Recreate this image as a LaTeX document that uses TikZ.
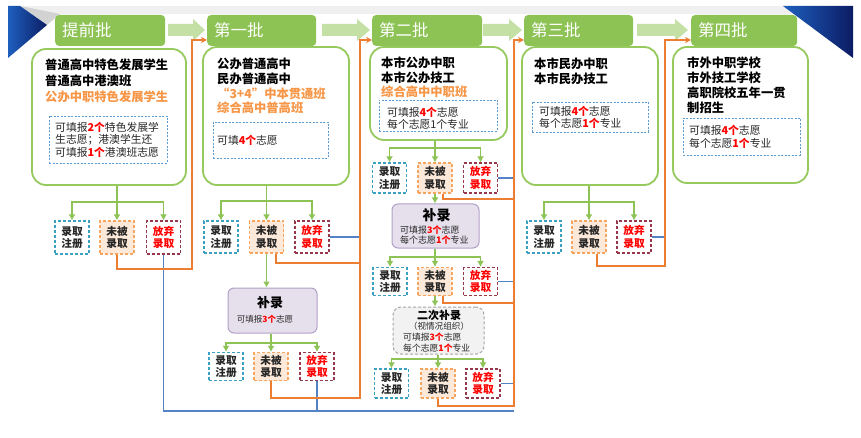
\documentclass[tikz,border=0pt]{standalone}
\usepackage{fontspec}
\setmainfont{Noto Sans CJK SC}
\usetikzlibrary{arrows.meta}
\definecolor{hgreen}{RGB}{141,194,84}
\definecolor{agreen}{RGB}{197,224,165}
\definecolor{bgreen}{RGB}{150,202,95}
\definecolor{cgreen}{RGB}{141,195,86}
\definecolor{otext}{RGB}{247,150,70}
\definecolor{oline}{RGB}{237,125,49}
\definecolor{bline}{RGB}{84,130,200}
\definecolor{dblue}{RGB}{91,155,213}
\definecolor{rteal}{RGB}{60,160,195}
\definecolor{uorange}{RGB}{247,165,95}
\definecolor{ufill}{RGB}{253,233,217}
\definecolor{fmaroon}{RGB}{150,55,75}
\definecolor{pfill}{RGB}{229,224,236}
\definecolor{pdraw}{RGB}{178,161,199}
\definecolor{gfill}{RGB}{242,242,242}
\definecolor{gdraw}{RGB}{165,165,165}
\definecolor{navy1}{RGB}{30,95,190}
\definecolor{navy2}{RGB}{12,28,100}
\newcommand{\rd}[1]{\textcolor{red}{\textbf{#1}}}
\begin{document}
\begin{tikzpicture}[x=1pt,y=-1pt,
  hdr/.style={fill=hgreen, rounded corners=4pt, minimum height=31pt, inner xsep=7pt, inner ysep=0pt, text=white, align=left, anchor=west, font=\fontsize{16.5}{18}\selectfont},
  mbox/.style={draw=bgreen, line width=1.8pt, rounded corners=14pt, fill=white, inner sep=0pt},
  tb/.style={font=\bfseries\fontsize{12.3}{#1}\selectfont, align=left, anchor=west, inner sep=0pt},
  ts/.style={font=\fontsize{10.8}{#1}\selectfont, align=left, anchor=west, inner sep=0pt, text=black!85},
  dbox/.style={draw=dblue, dash pattern=on 2pt off 1.5pt, line width=0.8pt, inner sep=0pt},
  rb/.style={minimum width=34pt, minimum height=#1, dash pattern=on 3pt off 2pt, line width=1.2pt, align=center, inner sep=0pt, font=\bfseries\fontsize{10.7}{12.5}\selectfont},
  rreg/.style={rb=#1, draw=rteal, fill=white, text=black!85},
  rnot/.style={rb=#1, draw=uorange, fill=ufill, text=black!85},
  rgiv/.style={rb=#1, draw=fmaroon, fill=white, text=red},
  gl/.style={draw=cgreen, line width=1.6pt},
  gla/.style={gl, -{Latex[length=6pt,width=7pt]}},
  ol/.style={draw=oline, line width=1.3pt},
  ola/.style={ol, -{Stealth[length=6pt,width=6pt]}},
  bl/.style={draw=bline, line width=1.3pt}
]
\useasboundingbox (0,0) rectangle (861,438);
% decoration
\fill[gray!12] (8,6) rectangle (853,14);
\fill[gray!35] (20,6) -- (60,14) -- (47,25) -- cycle;
\shade[left color=navy1, right color=navy2] (8,6) -- (20,6) -- (47,25) -- (8,58) -- cycle;
\shade[left color=navy1, right color=navy2] (783,6) -- (853,6) -- (853,58) -- cycle;
% header arrows
\fill[agreen] (168,24) -- (193,24) -- (193,19) -- (205,30) -- (193,41) -- (193,36) -- (168,36) -- cycle;
\fill[agreen] (322,24) -- (357,24) -- (357,19) -- (370,30) -- (357,41) -- (357,36) -- (322,36) -- cycle;
\fill[agreen] (483,24) -- (509,24) -- (509,19) -- (522,30) -- (509,41) -- (509,36) -- (483,36) -- cycle;
\fill[agreen] (637,24) -- (675,24) -- (675,19) -- (688,30) -- (675,41) -- (675,36) -- (637,36) -- cycle;
% headers
\node[hdr, text width=96pt] (h1) at (55,30.5) {提前批};
\node[hdr, text width=95pt] (h2) at (207,30.5) {第一批};
\node[hdr, text width=96pt] (h3) at (372,30.5) {第二批};
\node[hdr, text width=95pt] (h4) at (524,30.5) {第三批};
\node[hdr, text width=92pt] (h5) at (691,30.5) {第四批};
\coordinate (y40) at (0,40);
% main boxes
\node[mbox, minimum width=154pt, minimum height=136pt] (m1) at (109,117) {};
\node[tb=16] (t1) at (45,81) {普通高中特色发展学生\\普通高中港澳班\\\textcolor{otext}{公办中职特色发展学生}};
\node[dbox, minimum width=118pt, minimum height=47pt] (d1) at (108,139.5) {};
\node[ts=12.5] (s1) at (55,139.5) {可填报\rd{2个}特色发展学\\生志愿；港澳学生还\\可填报\rd{1个}港澳班志愿};

\node[mbox, minimum width=146pt, minimum height=138pt] (m2) at (276,116) {};
\node[tb=14.7] (t2) at (217,86) {公办普通高中\\民办普通高中\\\textcolor{otext}{“3+4”中本贯通班}\\\textcolor{otext}{综合高中普高班}};
\node[dbox, minimum width=115pt, minimum height=36pt] (d2) at (270.5,140) {};
\node[ts=12] (s2) at (217,140) {可填\rd{4个}志愿};

\node[mbox, minimum width=137pt, minimum height=93pt] (m3) at (438.5,93.5) {};
\node[tb=14.5] (t3) at (381,77.5) {本市公办中职\\本市公办技工\\\textcolor{otext}{综合高中中职班}};
\node[dbox, minimum width=118pt, minimum height=31pt] (d3) at (438,115.5) {};
\node[ts=12] (s3) at (387,118) {可填报\rd{4个}志愿\\每个志愿1个专业};

\node[mbox, minimum width=136pt, minimum height=138pt] (m4) at (590,116) {};
\node[tb=15] (t4) at (534,71.5) {本市民办中职\\本市民办技工};
\node[dbox, minimum width=116pt, minimum height=30pt] (d4) at (590,117) {};
\node[ts=11.5] (s4) at (539,117.5) {可填报\rd{4个}志愿\\每个志愿\rd{1个}专业};

\node[mbox, minimum width=135pt, minimum height=136pt] (m5) at (740.5,115) {};
\node[tb=15] (t5) at (687,85.5) {市外中职学校\\市外技工学校\\高职院校五年一贯\\制招生};
\node[dbox, minimum width=117pt, minimum height=37pt] (d5) at (741.5,136.5) {};
\node[ts=13] (s5) at (689,136.5) {可填报\rd{4个}志愿\\每个志愿\rd{1个}专业};

% result boxes
\node[rreg=33pt] (r1) at (72,237.5) {录取\\注册};
\node[rnot=33pt] (u1) at (117,237.5) {未被\\录取};
\node[rgiv=33pt] (f1) at (163.5,237.5) {放弃\\录取};

\node[rreg=32pt] (r2) at (221,237) {录取\\注册};
\node[rnot=32pt] (u2) at (266.5,237) {未被\\录取};
\node[rgiv=32pt] (f2) at (312,237) {放弃\\录取};

\node[rreg=28pt] (r2b) at (226,366.5) {录取\\注册};
\node[rnot=28pt] (u2b) at (271,366.5) {未被\\录取};
\node[rgiv=28pt] (f2b) at (317,366.5) {放弃\\录取};

\node[rreg=30pt] (r3a) at (389.5,178) {录取\\注册};
\node[rnot=30pt] (u3a) at (435,178) {未被\\录取};
\node[rgiv=30pt] (f3a) at (480.5,178) {放弃\\录取};

\node[rreg=28pt] (r3b) at (390,281.5) {录取\\注册};
\node[rnot=28pt] (u3b) at (435,281.5) {未被\\录取};
\node[rgiv=28pt] (f3b) at (480.5,281.5) {放弃\\录取};

\node[rreg=29pt] (r3c) at (391.5,383.5) {录取\\注册};
\node[rnot=29pt] (u3c) at (438,383.5) {未被\\录取};
\node[rgiv=29pt] (f3c) at (483,383.5) {放弃\\录取};

\node[rreg=32pt] (r4) at (544,237) {录取\\注册};
\node[rnot=32pt] (u4) at (589,237) {未被\\录取};
\node[rgiv=32pt] (f4) at (634,237) {放弃\\录取};

% supplementary boxes
\node[fill=pfill, draw=pdraw, line width=1pt, rounded corners=6pt, minimum width=89pt, minimum height=45pt, inner sep=0pt] (bl2) at (272.5,310.5) {};
\node[font=\bfseries\fontsize{13}{14}\selectfont, inner sep=0pt] (bl2a) at (270,303) {补录};
\node[font=\fontsize{8.5}{10}\selectfont, inner sep=0pt, text=black!85] (bl2b) at (265,319) {可填报\rd{3个}志愿};

\node[fill=pfill, draw=pdraw, line width=1pt, rounded corners=6pt, minimum width=87pt, minimum height=44pt, inner sep=0pt] (bl3) at (435.5,226) {};
\node[font=\bfseries\fontsize{14}{15}\selectfont, inner sep=0pt] (bl3a) at (436.5,215) {补录};
\node[font=\fontsize{9}{10.5}\selectfont, inner sep=0pt, align=left, anchor=west, text=black!85] (bl3b) at (400,235) {可填报\rd{3个}志愿\\每个志愿\rd{1个}专业};

\node[fill=gfill, draw=gdraw, dash pattern=on 3pt off 2pt, line width=1pt, rounded corners=8pt, minimum width=91pt, minimum height=47pt, inner sep=0pt] (eb3) at (438.5,330.5) {};
\node[font=\bfseries\fontsize{11}{12}\selectfont, inner sep=0pt] (eb3a) at (439,315) {二次补录};
\node[font=\fontsize{8.6}{10}\selectfont, inner sep=0pt, text=black!85] (eb3b) at (439,326) {（视情况组织）};
\node[font=\fontsize{8.8}{11}\selectfont, inner sep=0pt, align=left, anchor=west, text=black!85] (eb3c) at (403,342.5) {可填报\rd{3个}志愿\\每个志愿\rd{1个}专业};

% green connectors
\coordinate (k1) at (117,202);
\draw[gl] (m1.south -| k1) -- (k1);
\draw[gla] (k1) -| (r1.north);
\draw[gla] (k1) -- (u1.north);
\draw[gla] (k1) -| (f1.north);

\coordinate (k2) at (266.5,201);
\draw[gl] (m2.south -| k2) -- (k2);
\draw[gla] (k2) -| (r2.north);
\draw[gla] (k2) -- (u2.north);
\draw[gla] (k2) -| (f2.north);
\draw[gla] (u2.south) -- (u2.south |- bl2.north);
\coordinate (k2b) at (271,343);
\draw[gl] (bl2.south -| k2b) -- (k2b);
\draw[gla] (k2b) -| (r2b.north);
\draw[gla] (k2b) -- (u2b.north);
\draw[gla] (k2b) -| (f2b.north);

\coordinate (k3a) at (435,148);
\draw[gl] (m3.south -| k3a) -- (k3a);
\draw[gla] (k3a) -| (r3a.north);
\draw[gla] (k3a) -- (u3a.north);
\draw[gla] (k3a) -| (f3a.north);
\draw[gla] (u3a.south) -- (u3a.south |- bl3.north);
\coordinate (k3b) at (435,257);
\draw[gl] (bl3.south -| k3b) -- (k3b);
\draw[gla] (k3b) -| (r3b.north);
\draw[gla] (k3b) -- (u3b.north);
\draw[gla] (k3b) -| (f3b.north);
\draw[gla] (u3b.south) -- (u3b.south |- eb3.north);
\coordinate (k3c) at (438,359);
\draw[gl] (eb3.south -| k3c) -- (k3c);
\draw[gla] (k3c) -| (r3c.north);
\draw[gla] (k3c) -- (u3c.north);
\draw[gla] (k3c) -| (f3c.north);

\coordinate (k4) at (589,202);
\draw[gl] (m4.south -| k4) -- (k4);
\draw[gla] (k4) -| (r4.north);
\draw[gla] (k4) -- (u4.north);
\draw[gla] (k4) -| (f4.north);

% blue connectors
\coordinate (b1) at (514,411);
\coordinate (o2) at (360,263);
\coordinate (o4) at (514,199);
\coordinate (o7) at (665,266);
\draw[bl] (f1.south) |- (b1);
\draw[bl] (f2.east) -- (f2.east -| o2);
\draw[bl] (f2b.south) -- (f2b.south |- b1);
\draw[bl] (f3a.east) -- (f3a.east -| o4);
\draw[bl] (f3b.east) -- (f3b.east -| o4);
\draw[bl] (f3c.east) -- (f3c.east -| o4);
\draw[bl] (f4.east) -- (f4.east -| o7);

% orange connectors
\coordinate (o1) at (192,269);
\coordinate (o3) at (360,398);
\coordinate (o5) at (514,303);
\coordinate (o6) at (514,406);
\draw[ola] (u1.south) |- (o1) |- (h2.west |- y40);
\draw[ol] ([xshift=9.5pt]u2.south) |- (o2);
\draw[ola] (u2b.south) |- (o3) |- (h3.west |- y40);
\draw[ol] ([xshift=8pt]u3a.south) |- (o4);
\draw[ol] ([xshift=8pt]u3b.south) |- (o5);
\draw[ola] (u3c.south) |- (o6) |- (h4.west |- y40);
\draw[ola] ([xshift=8pt]u4.south) |- (o7) |- (h5.west |- y40);
\end{tikzpicture}
\end{document}
